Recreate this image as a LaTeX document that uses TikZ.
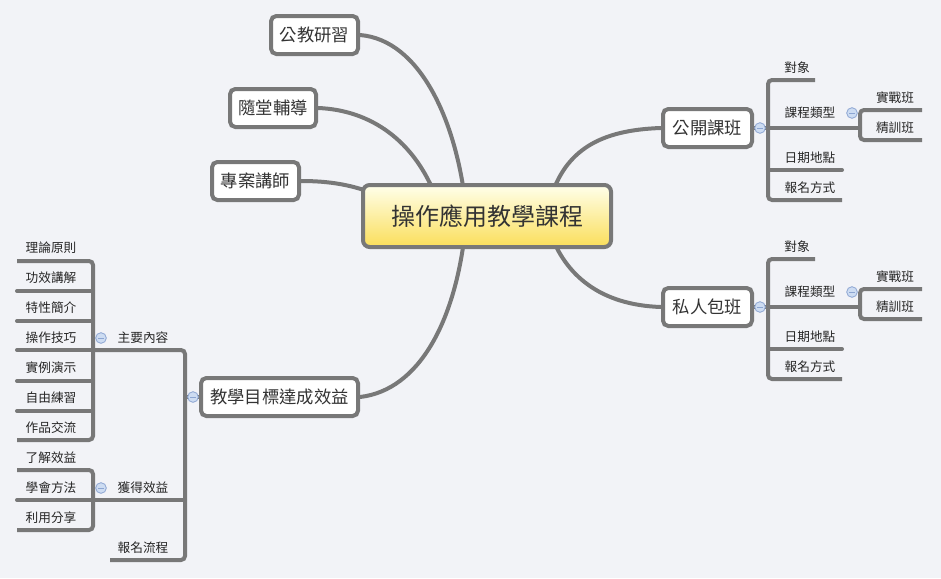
\documentclass[tikz,border=0pt]{standalone}
\usepackage{fontspec}
\setmainfont{Noto Sans CJK TC}
\usetikzlibrary{backgrounds}
\definecolor{bg}{RGB}{242,243,247}
\definecolor{tg}{RGB}{205,220,242}
\definecolor{tgd}{RGB}{140,165,210}
\definecolor{ln}{RGB}{120,120,120}
\begin{document}
\begin{tikzpicture}[x=0.75pt,y=-0.75pt,
  conn/.style={draw=ln,line width=3pt,line cap=round},
  br/.style={draw=ln,line width=3pt,rounded corners=3pt},
  box/.style={draw=ln,line width=3pt,fill=white,rounded corners=4pt,font=\fontsize{13}{15}\selectfont,text=black!80,inner sep=0pt,minimum height=28.5pt},
  leaf/.style={font=\fontsize{9.5}{11}\selectfont,text=black!85,inner sep=0pt},
  tog/.style={circle,draw=tgd,fill=tg,line width=0.6pt,minimum size=8pt,inner sep=0pt,
    path picture={\draw[tgd,line width=0.7pt] ([xshift=-2.2pt]path picture bounding box.center) -- ([xshift=2.2pt]path picture bounding box.center);}}]
\useasboundingbox (0,0) rectangle (941,578);
\node[box,minimum width=65.25pt] (a) at (314.5,35) {公教研習};
\node[box,minimum width=64.5pt] (b) at (273,108) {隨堂輔導};
\node[box,minimum width=65.25pt] (c) at (255.5,181) {專案講師};
\node[box,minimum width=117.75pt] (d) at (279.5,397) {教學目標達成效益};
\node[box,minimum width=66.75pt] (e) at (707.5,128) {公開課班};
\node[box,minimum width=66.75pt] (f) at (707.5,307) {私人包班};
\node[draw=ln,line width=3pt,rounded corners=5pt,top color=yellow!8,bottom color={rgb,255:red,250;green,222;blue,90},minimum width=186pt,minimum height=46.5pt,font=\fontsize{18}{20}\selectfont,text=black!80] (m) at (487,216) {操作應用教學課程};
\begin{scope}[on background layer]
\fill[bg] (0,0) rectangle (941,578);
\coordinate (c1) at (465,200); \coordinate (c2) at (437,200); \coordinate (c3) at (370,192);
\coordinate (c4) at (550,200); \coordinate (c5) at (550,232); \coordinate (c6) at (465,232);
\draw[conn] (a.east) .. controls (420,40) and (455,120) .. (c1);
\draw[conn] (b.east) .. controls (370,110) and (415,140) .. (c2);
\draw[conn] (c.east) .. controls (330,181) and (350,185) .. (c3);
\draw[conn] (e.west) .. controls (600,130) and (565,150) .. (c4);
\draw[conn] (f.west) .. controls (600,305) and (565,275) .. (c5);
\draw[conn] (d.east) .. controls (420,390) and (455,320) .. (c6);
\end{scope}
% right subtrees
\foreach \dy/\p in {0/e,179/f}{
  \begin{scope}[yshift=-\dy*0.75pt]
  \draw[conn] (768,128) -- (753,128);
  \draw[br] (815,80) -- (768,80) -- (768,200) -- (842,200);
  \draw[conn] (768,170) -- (842,170);
  \draw[conn] (768,128) -- (860,128);
  \draw[br] (922,110) -- (860,110) -- (860,140) -- (922,140);
  \node[leaf] (o\p) at (797,68) {對象};
  \node[leaf] (t\p) at (810,113) {課程類型};
  \node[leaf] (r\p) at (895,98) {實戰班};
  \node[leaf] (s\p) at (895,128) {精訓班};
  \node[leaf] (d\p) at (810,158) {日期地點};
  \node[leaf] (g\p) at (810,188) {報名方式};
  \node[tog] at (760,128) {};
  \node[tog] at (852,113) {};
  \end{scope}}
% left subtree
\draw[conn] (d.west) -- (185,397);
\draw[br] (95,350) -- (185,350) -- (185,560) -- (110,560);
\draw[conn] (95,500) -- (185,500);
\draw[br] (17,261) -- (93,261) -- (93,440) -- (17,440);
\foreach \y in {291,321,350,381,411}{\draw[conn] (17,\y) -- (93,\y);}
\draw[br] (17,470) -- (93,470) -- (93,530) -- (17,530);
\draw[conn] (17,500) -- (93,500);
\node[leaf] (k1) at (143,338) {主要內容};
\node[leaf] (k2) at (143,488) {獲得效益};
\node[leaf] (k3) at (143,548) {報名流程};
\foreach \t [count=\i] in {理論原則,功效講解,特性簡介,操作技巧,實例演示,自由練習,作品交流}{
  \node[leaf] (l\i) at (51,218+30*\i) {\t};}
\node[leaf] (n1) at (51,458) {了解效益};
\node[leaf] (n2) at (51,488) {學會方法};
\node[leaf] (n3) at (51,518) {利用分享};
\node[tog] at (193,397) {};
\node[tog] at (101,338) {};
\node[tog] at (101,488) {};
\end{tikzpicture}
\end{document}
